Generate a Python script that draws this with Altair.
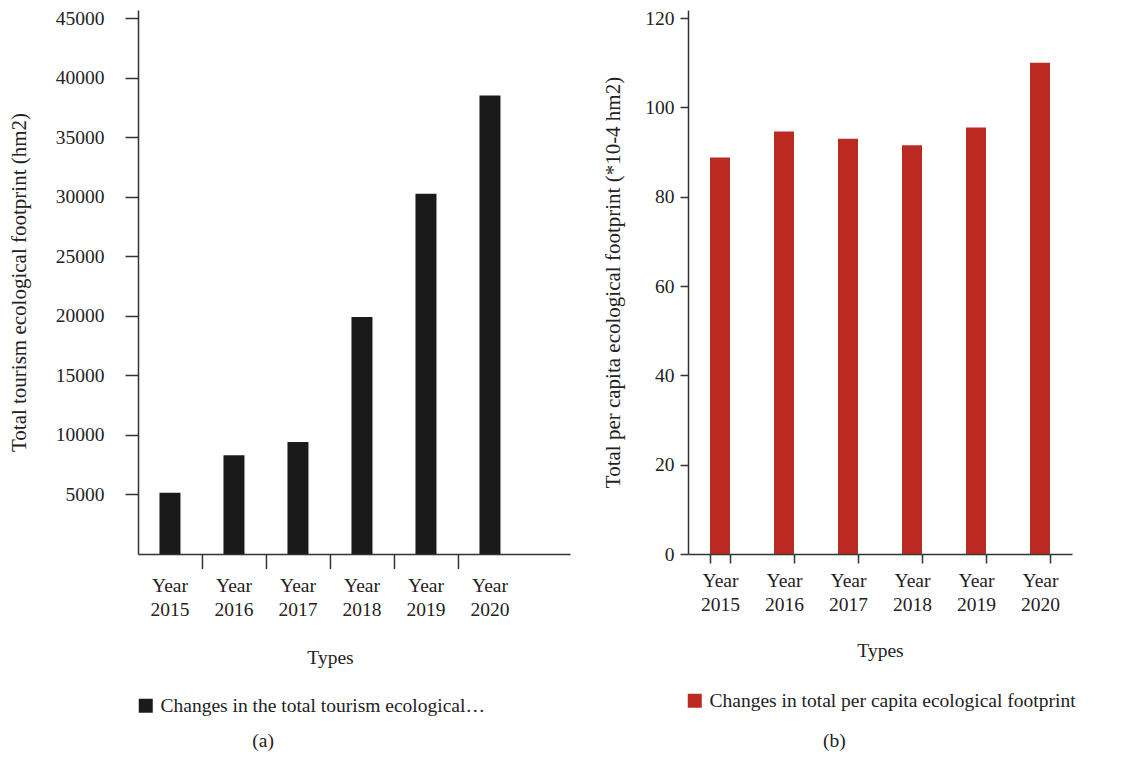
import altair as alt
import pandas as pd

years = ["Year 2015", "Year 2016", "Year 2017", "Year 2018", "Year 2019", "Year 2020"]
total_fp = [5150, 8300, 9400, 19900, 30250, 38500]
per_capita_fp = [88.8, 94.6, 93.0, 91.5, 95.5, 110.0]
series_a = "Changes in the total tourism ecological footprint"
series_b = "Changes in total per capita ecological footprint"
left_ticks = [5000, 10000, 15000, 20000, 25000, 30000, 35000, 40000, 45000]
right_ticks = [0, 20, 40, 60, 80, 100, 120]

FONT = "Liberation Serif"
TXT = "#222222"
H = 544
FS = 19.5

df_a = pd.DataFrame({"year": years, "value": total_fp, "series": [series_a] * 6})
df_a_ticks = pd.DataFrame({"year": years[:-1]})
df_b = pd.DataFrame({"year": years, "value": per_capita_fp, "series": [series_b] * 6})

label_expr = "split(datum.label, ' ')"

xa = alt.X(
    "year:N", sort=years, title="Types",
    scale=alt.Scale(paddingInner=0.672, paddingOuter=0.711, align=0.236),
    axis=alt.Axis(labelAngle=0, labelExpr=label_expr, labelLineHeight=24,
                  ticks=False, labelPadding=22, titleX=192, titlePadding=30,
                  titleFontSize=FS),
)

bars_a = alt.Chart(df_a).mark_bar().encode(
    x=xa,
    y=alt.Y("value:Q", title="Total tourism ecological footprint (hm2)",
            scale=alt.Scale(domain=[0, 45672], nice=False),
            axis=alt.Axis(values=left_ticks, format="d", tickSize=13, labelPadding=21,
                          titlePadding=26)),
    color=alt.Color("series:N", scale=alt.Scale(domain=[series_a], range=["#1a1a1a"]),
                    legend=alt.Legend(title=None, orient="none", legendX=-2, legendY=686,
                                      symbolType="square",
                                      symbolSize=196, symbolStrokeWidth=0, labelLimit=500,
                                      labelExpr="substring(datum.label, 0, 39) + '…'",
                                      labelOffset=5)),
)

ticks_a = alt.Chart(df_a_ticks).mark_rule(color="#333333", strokeWidth=1.5, xOffset=22).encode(
    x=alt.X("year:N", sort=years, bandPosition=1),
    y=alt.value(H),
    y2=alt.value(H + 15),
)

left = alt.layer(bars_a, ticks_a).properties(
    width=432, height=H,
    title=alt.TitleParams("(a)", orient="bottom", frame="bounds", dx=-26, offset=16,
                          fontSize=FS, font=FONT, color=TXT, fontWeight="normal"),
)

right = alt.Chart(df_b).mark_bar().encode(
    x=alt.X("year:N", sort=years, title="Types",
            scale=alt.Scale(paddingInner=0.6875, paddingOuter=0.34375),
            axis=alt.Axis(labelAngle=0, labelExpr=label_expr, labelLineHeight=24,
                          tickBand="extent", tickSize=9, labelPadding=8, titlePadding=28,
                          titleFontSize=FS)),
    y=alt.Y("value:Q", title="Total per capita ecological footprint (*10-4 hm2)",
            scale=alt.Scale(domain=[0, 121.8], nice=False),
            axis=alt.Axis(values=right_ticks, tickSize=8, labelPadding=6, titlePadding=21)),
    color=alt.Color("series:N", scale=alt.Scale(domain=[series_b], range=["#bb2a20"]),
                    legend=alt.Legend(title=None, orient="none", legendX=-3, legendY=681,
                                      symbolType="square",
                                      symbolSize=196, symbolStrokeWidth=0, labelLimit=500,
                                      labelOffset=5)),
).properties(
    width=384, height=H,
    title=alt.TitleParams("(b)", orient="bottom", frame="bounds", dx=-5, offset=21,
                          fontSize=FS, font=FONT, color=TXT, fontWeight="normal"),
)

chart = alt.hconcat(left, right, spacing=32).resolve_scale(
    color="independent"
).resolve_legend(color="independent").properties(
    padding={"left": 0, "top": 0, "right": 5, "bottom": 5}
).configure(font=FONT).configure_view(stroke=None).configure_axis(
    grid=False, labelFont=FONT, titleFont=FONT, labelFontSize=FS, titleFontSize=21,
    labelColor=TXT, titleColor=TXT, titleFontWeight="normal",
    domainColor="#333333", tickColor="#333333", domainWidth=1.5, tickWidth=1.5,
).configure_legend(labelFont=FONT, labelFontSize=FS, labelColor=TXT)

chart.save("out.html", embed_options={"renderer": "svg", "actions": False})
